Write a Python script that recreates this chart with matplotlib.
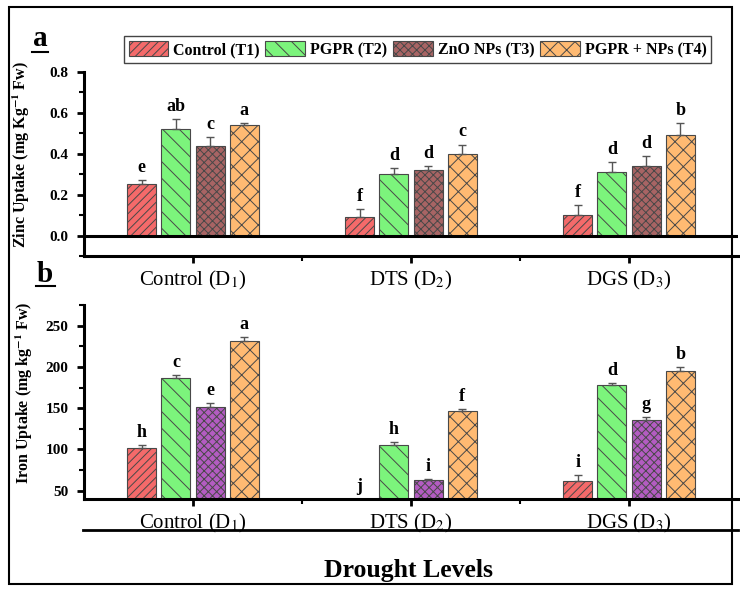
import numpy as np
import matplotlib
matplotlib.use("Agg")
import matplotlib.pyplot as plt
from matplotlib.lines import Line2D
from matplotlib.patches import Rectangle
from matplotlib.ticker import MultipleLocator, FixedLocator

plt.rcParams["font.family"] = ["Liberation Serif", "DejaVu Serif"]
plt.rcParams["mathtext.fontset"] = "stix"
plt.rcParams["hatch.linewidth"] = 0.7

# ---- data -------------------------------------------------------------
groups = ["Control (D$_1$)", "DTS (D$_2$)", "DGS (D$_3$)"]
treatments = ["Control (T1)", "PGPR (T2)", "ZnO NPs (T3)", "PGPR + NPs (T4)"]

# zinc uptake (mg Kg-1 Fw), one list per treatment across D1..D3
zn_t1 = [0.25, 0.09, 0.10]
zn_t2 = [0.52, 0.30, 0.31]
zn_t3 = [0.44, 0.32, 0.34]
zn_t4 = [0.54, 0.40, 0.49]
zn_err_t1 = [0.02, 0.04, 0.05]
zn_err_t2 = [0.05, 0.03, 0.05]
zn_err_t3 = [0.04, 0.02, 0.05]
zn_err_t4 = [0.01, 0.045, 0.06]
zn_let_t1 = ["e", "f", "f"]
zn_let_t2 = ["ab", "d", "d"]
zn_let_t3 = ["c", "d", "d"]
zn_let_t4 = ["a", "c", "b"]

# iron uptake (mg kg-1 Fw)
fe_t1 = [102, 35, 62]
fe_t2 = [187, 106, 178]
fe_t3 = [152, 63, 136]
fe_t4 = [231.5, 147, 195.5]
fe_err_t1 = [3, 0, 7]
fe_err_t2 = [3, 3, 2]
fe_err_t3 = [4.5, 1.5, 3]
fe_err_t4 = [5, 2, 4]
fe_let_t1 = ["h", "j", "i"]
fe_let_t2 = ["c", "h", "d"]
fe_let_t3 = ["e", "i", "g"]
fe_let_t4 = ["a", "f", "b"]

# ---- styles -----------------------------------------------------------
COL_TOP = ["#F46A6A", "#7CF47C", "#A86464", "#FFBA72"]
COL_BOT = ["#F46A6A", "#7CF47C", "#B35CC2", "#FFBA72"]
HATCH = ["////", "\\\\", "xxxx", "xx"]
EDGE = "#484848"

W, H = 740, 595
fig = plt.figure(figsize=(7.4, 5.95), dpi=100)


def fx(px):
    return px / W


def fy(py):
    return 1 - py / H


ax_top = fig.add_axes([fx(84), fy(256), fx(738) - fx(84), fy(72) - fy(256)])
ax_bot = fig.add_axes([fx(84), fy(499), fx(738) - fx(84), fy(305) - fy(499)])

x = np.arange(1, len(groups) + 1)
step, bw = 0.157, 0.132


def draw(ax, series, errs, letters, colors, ylim):
    lo = ylim[0]
    bars = []
    for i, (vals, err, let) in enumerate(zip(series, errs, letters)):
        xi = x + (i - 1.5) * step
        b = ax.bar(xi, vals, bw, color=colors[i], edgecolor=EDGE, lw=0.8,
                   hatch=HATCH[i], zorder=2)
        bars.append(b)
        ax.errorbar(xi, vals, yerr=[np.zeros(len(vals)), err], fmt="none",
                    ecolor="#555555", elinewidth=1, capsize=3, capthick=1, zorder=3)
        for xx, v, e, t in zip(xi, vals, err, let):
            ax.annotate(t, (xx, max(v + e, lo)), xytext=(0, 3), textcoords="offset points",
                        ha="center", va="bottom", fontsize=13, fontweight="bold")
    ax.set_xlim(0.5, 3.5)
    ax.set_ylim(*ylim)
    ax.set_xticks(x)
    ax.set_xticklabels(groups, fontsize=15)
    ax.xaxis.set_minor_locator(FixedLocator([1.5, 2.5]))
    for s in ("top", "right"):
        ax.spines[s].set_visible(False)
    for s in ("left", "bottom"):
        ax.spines[s].set_linewidth(2.2)
    ax.tick_params(axis="both", which="major", direction="out", length=5, width=2, pad=6)
    ax.tick_params(axis="both", which="minor", direction="out", length=3.5, width=1.5)
    ax.tick_params(axis="x", which="both", pad=4)
    return bars


bars = draw(ax_top, [zn_t1, zn_t2, zn_t3, zn_t4],
            [zn_err_t1, zn_err_t2, zn_err_t3, zn_err_t4],
            [zn_let_t1, zn_let_t2, zn_let_t3, zn_let_t4], COL_TOP, (-0.1, 0.8))
ax_top.yaxis.set_major_locator(FixedLocator([0.0, 0.2, 0.4, 0.6, 0.8]))
ax_top.yaxis.set_minor_locator(MultipleLocator(0.1))
ax_top.set_yticklabels(["0.0", "0.2", "0.4", "0.6", "0.8"], fontweight="bold", fontsize=11)
ax_top.axhline(0, color="black", lw=2.2, zorder=4)
ax_top.set_ylabel(r"Zinc Uptake (mg Kg$^{\mathbf{-1}}$ Fw)", fontsize=11.5, fontweight="bold")
ax_top.yaxis.set_label_coords(-0.08, 0.55)

draw(ax_bot, [fe_t1, fe_t2, fe_t3, fe_t4],
     [fe_err_t1, fe_err_t2, fe_err_t3, fe_err_t4],
     [fe_let_t1, fe_let_t2, fe_let_t3, fe_let_t4], COL_BOT, (40, 275))
ax_bot.yaxis.set_major_locator(FixedLocator([50, 100, 150, 200, 250]))
ax_bot.yaxis.set_minor_locator(FixedLocator([75, 125, 175, 225, 275]))
ax_bot.set_yticklabels(["50", "100", "150", "200", "250"], fontweight="bold", fontsize=11)
ax_bot.set_ylabel(r"Iron Uptake (mg kg$^{\mathbf{-1}}$ Fw)", fontsize=11.5, fontweight="bold")
ax_bot.yaxis.set_label_coords(-0.075, 0.55)

# legend
fig.legend([b[0] for b in bars], treatments, loc="center",
           bbox_to_anchor=(fx((122 + 713) / 2), fy(49.5)), ncol=4,
           prop={"weight": "bold", "size": 11.5}, handlelength=2.5, handleheight=1.1,
           columnspacing=0.35, handletextpad=0.3, borderpad=0.3,
           fancybox=False, edgecolor="#444444", framealpha=1)

# panel letters with underline
fig.text(fx(40), fy(46), "a", ha="center", va="baseline", fontsize=21, fontweight="bold")
fig.add_artist(Line2D([fx(32), fx(48)], [fy(51.5), fy(51.5)], color="black", lw=1.5))
fig.text(fx(45), fy(282), "b", ha="center", va="baseline", fontsize=21, fontweight="bold")
fig.add_artist(Line2D([fx(36), fx(55)], [fy(286), fy(286)], color="black", lw=1.5))

# line under category labels and the common x label
fig.add_artist(Line2D([fx(83), fx(738)], [fy(530), fy(530)], color="black", lw=2))
fig.text(fx(408), fy(577), "Drought Levels", ha="center", va="baseline",
         fontsize=18.5, fontweight="bold")

# outer frame
fig.add_artist(Rectangle((fx(9), fy(584)), fx(732) - fx(9), fy(7) - fy(584),
                         transform=fig.transFigure, fill=False, ec="black", lw=1.5))

fig.savefig("out.png", dpi=100)
